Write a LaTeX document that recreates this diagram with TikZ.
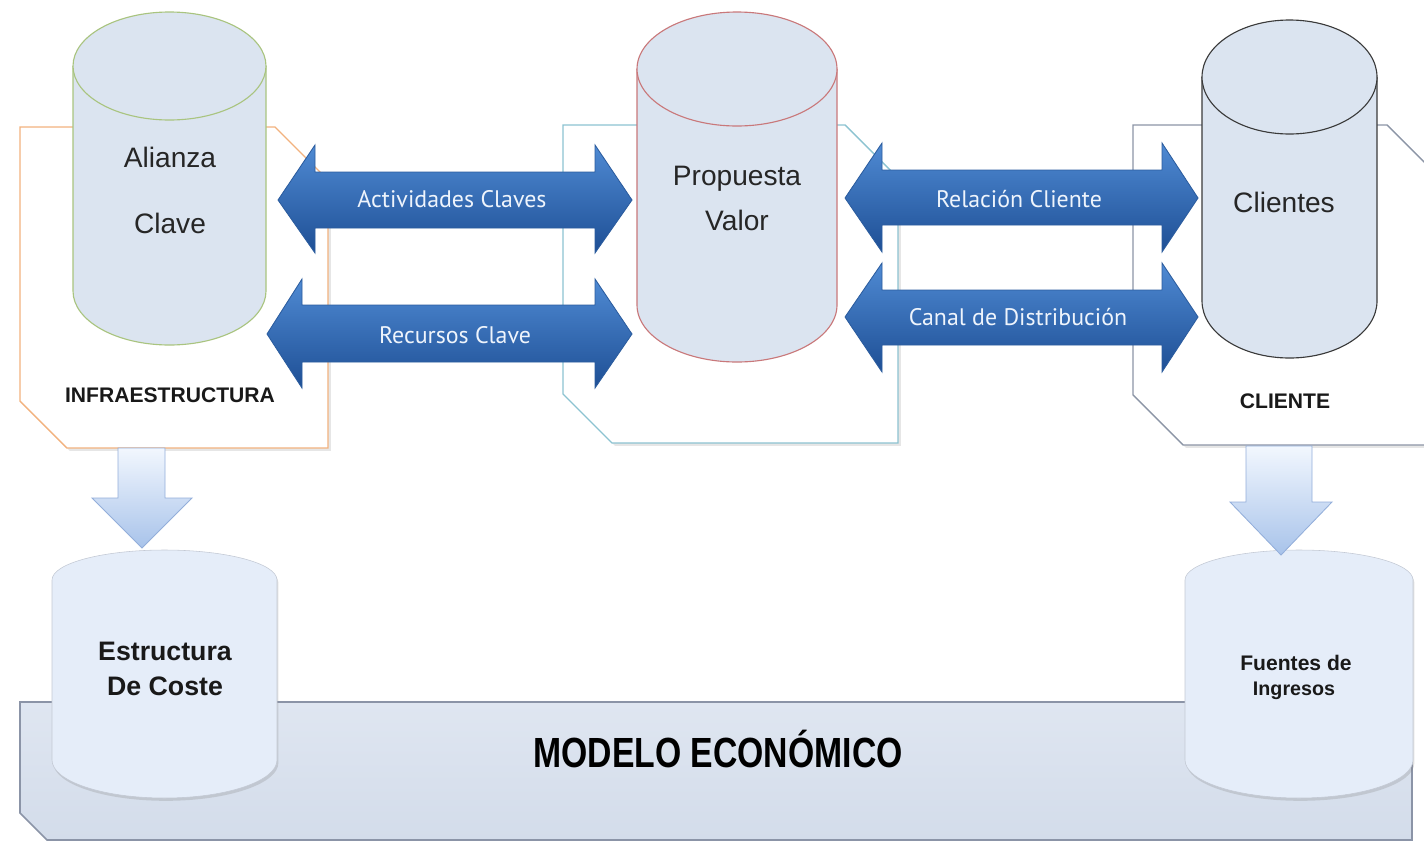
\documentclass[tikz,border=0pt]{standalone}
\usepackage{fontspec}
\setmainfont{Liberation Sans}
\newfontfamily\arrowfont{PT Sans}
\usetikzlibrary{shadows}

\definecolor{cylfill}{HTML}{DBE4F0}
\definecolor{alzline}{HTML}{A9C47F}
\definecolor{propline}{HTML}{C9787A}
\definecolor{cliline}{HTML}{3A3A3A}
\definecolor{infraline}{HTML}{F2B27E}
\definecolor{propframe}{HTML}{8CC3D1}
\definecolor{cliframe}{HTML}{8C95A6}
\definecolor{arrowtop}{HTML}{4F8AD3}
\definecolor{arrowbot}{HTML}{1E4F95}
\definecolor{arrowline}{HTML}{2B5C9E}
\definecolor{downtop}{HTML}{F2F7FE}
\definecolor{downbot}{HTML}{A8C3EA}
\definecolor{downline}{HTML}{93AEDA}
\definecolor{softfill}{HTML}{E5EDF9}
\definecolor{bandtop}{HTML}{DFE6F1}
\definecolor{bandbot}{HTML}{D3DCEA}
\definecolor{bandline}{HTML}{8B94A7}
\definecolor{labeltext}{HTML}{EEF4FC}

\tikzset{
  frame/.style = { fill = white, line width = 1pt,
    drop shadow={opacity=.2,shadow xshift=2pt,shadow yshift=-2pt} },
  cylbody/.style = { fill = cylfill, line width = .8pt },
  bigarrow/.style = { top color = arrowtop, bottom color = arrowbot, draw = arrowline, line width = .6pt },
  downarrow/.style = { top color = downtop, bottom color = downbot, draw = downline, line width = .6pt },
  softcyl/.style = { fill = softfill, draw = softfill!85!black, line width = .4pt,
    drop shadow={opacity=.25,shadow xshift=1pt,shadow yshift=-2pt} },
  cyltext/.style = { anchor = base, font = \fontsize{20}{24}\selectfont, text = black!85 },
  boxtext/.style = { anchor = base, font = \bfseries\fontsize{15}{18}\selectfont, text = black!90 },
  softtext/.style = { anchor = base, font = \bfseries\fontsize{19}{23}\selectfont, text = black!90 },
  arrowtext/.style = { anchor = base, font = \arrowfont\fontsize{17}{20}\selectfont, text = labeltext }
}

\begin{document}
\begin{tikzpicture}[x = 0.025cm, y = -0.025cm]
  \useasboundingbox (0,0) rectangle (1424,842);
  \clip (0,0) rectangle (1424,842);

  % frames behind the cylinders
  \draw[frame, draw = infraline] (20,127) -- (275,127) -- (328,180) -- (328,448) -- (67,448) -- (20,401) -- cycle;
  \draw[frame, draw = propframe] (563,125) -- (845,125) -- (898,178) -- (898,443) -- (612,443) -- (563,394) -- cycle;
  \draw[frame, draw = cliframe] (1133,125) -- (1387,125) -- (1440,178) -- (1440,445) -- (1183,445) -- (1133,395) -- cycle;

  % economic band
  \draw[top color = bandtop, bottom color = bandbot, draw = bandline, line width = 1.2pt]
    (20,702) -- (1412,702) -- (1412,840) -- (47,840) -- (20,813) -- cycle;

  % lower cylinders
  \draw[softcyl] (52,580) arc[start angle = 180, end angle = 360, x radius = 112.5, y radius = 30]
    -- (277,760) arc[start angle = 0, end angle = 180, x radius = 112.5, y radius = 38] -- cycle;
  \draw[softcyl] (1185,580) arc[start angle = 180, end angle = 360, x radius = 114, y radius = 30]
    -- (1413,760) arc[start angle = 0, end angle = 180, x radius = 114, y radius = 38] -- cycle;

  % upper cylinders
  \draw[cylbody, draw = alzline] (73,66) -- (73,291) arc[start angle = 180, end angle = 0, x radius = 96.5, y radius = 54] -- (266,66);
  \draw[cylbody, draw = alzline] (169.5,66) ellipse [x radius = 96.5, y radius = 54];
  \draw[cylbody, draw = propline] (637,69) -- (637,305) arc[start angle = 180, end angle = 0, x radius = 100, y radius = 57] -- (837,69);
  \draw[cylbody, draw = propline] (737,69) ellipse [x radius = 100, y radius = 57];
  \draw[cylbody, draw = cliline] (1202,77) -- (1202,301) arc[start angle = 180, end angle = 0, x radius = 87.5, y radius = 57] -- (1377,77);
  \draw[cylbody, draw = cliline] (1289.5,77) ellipse [x radius = 87.5, y radius = 57];

  % down arrows
  \draw[downarrow] (118,448) -- (165,448) -- (165,498) -- (192,498) -- (142,548) -- (92,498) -- (118,498) -- cycle;
  \draw[downarrow] (1246,446) -- (1312,446) -- (1312,502) -- (1332,502) -- (1281,555) -- (1230,502) -- (1246,502) -- cycle;

  % double arrows
  \draw[bigarrow] (278,200) -- (315,145) -- (315,172) -- (595,172) -- (595,145) -- (632,200)
    -- (595,253) -- (595,228) -- (315,228) -- (315,253) -- cycle;
  \draw[bigarrow] (267,334) -- (302,279) -- (302,305) -- (595,305) -- (595,279) -- (632,334)
    -- (595,388) -- (595,362) -- (302,362) -- (302,388) -- cycle;
  \draw[bigarrow] (845,198) -- (882,143) -- (882,170) -- (1162,170) -- (1162,143) -- (1198,198)
    -- (1162,252) -- (1162,225) -- (882,225) -- (882,252) -- cycle;
  \draw[bigarrow] (845,317) -- (882,263) -- (882,290) -- (1162,290) -- (1162,263) -- (1198,317)
    -- (1162,372) -- (1162,345) -- (882,345) -- (882,372) -- cycle;

  % texts
  \node[cyltext] (alianza) at (170,167) {Alianza};
  \node[cyltext] (clave) at (170,233) {Clave};
  \node[cyltext] (propuesta) at (737,185) {Propuesta};
  \node[cyltext] (valor) at (737,230) {Valor};
  \node[cyltext] (clientes) at (1284,212) {Clientes};
  \node[boxtext] (infra) at (170,402) {INFRAESTRUCTURA};
  \node[boxtext] (cliente) at (1285,408) {CLIENTE};
  \node[arrowtext] (actividades) at (452,207) {Actividades Claves};
  \node[arrowtext] (recursos) at (455,343) {Recursos Clave};
  \node[arrowtext] (relacion) at (1019,207) {Relación Cliente};
  \node[arrowtext] (canal) at (1018,325) {Canal de Distribución};
  \node[softtext] (estructura) at (165,660) {Estructura};
  \node[softtext] (coste) at (165,695) {De Coste};
  \node[boxtext] (fuentes) at (1296,670) {Fuentes de};
  \node[boxtext, font = \bfseries\fontsize{14}{17}\selectfont] (ingresos) at (1294,695) {Ingresos};
  \node[anchor = base, xscale = .8, font = \bfseries\fontsize{30}{36}\selectfont] (modelo) at (718,767) {MODELO ECONÓMICO};
\end{tikzpicture}
\end{document}
